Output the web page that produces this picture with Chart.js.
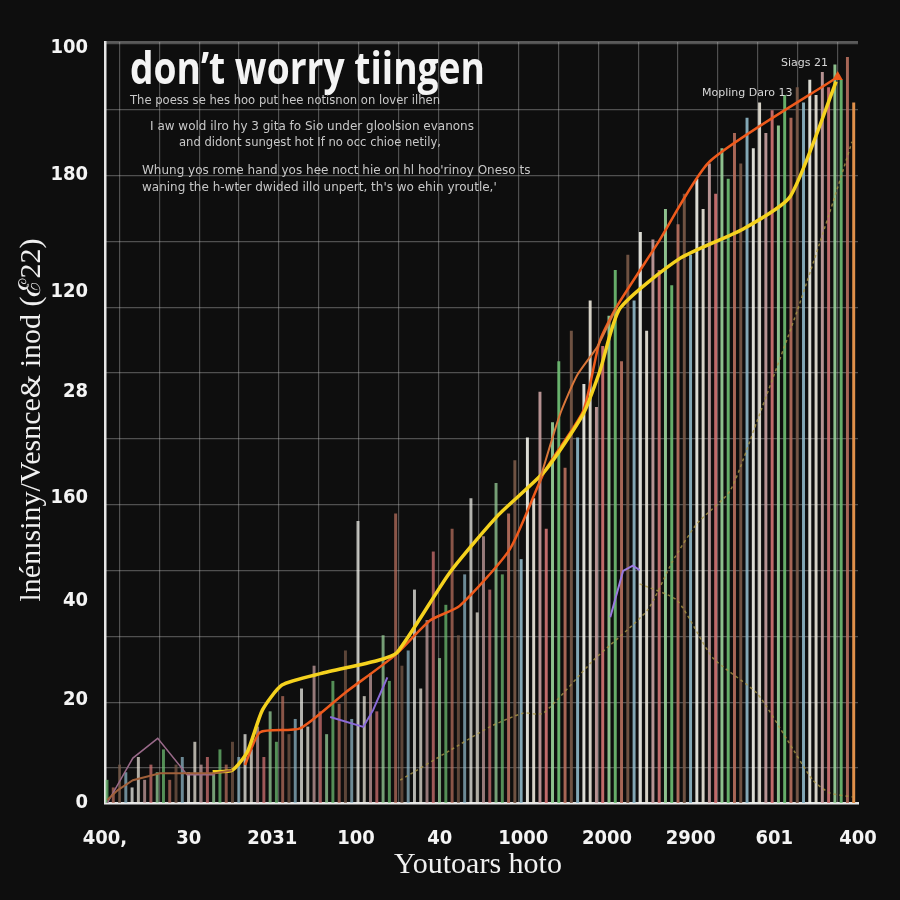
<!DOCTYPE html>
<html>
<head>
<meta charset="utf-8">
<script src="https://cdn.jsdelivr.net/npm/chart.js@4/dist/chart.umd.min.js"></script>
<style>
html,body{margin:0;padding:0;background:#0e0e0e;}
#wrap{width:900px;height:900px;}
</style>
</head>
<body>
<div id="wrap"><canvas id="chart" width="900" height="900"></canvas></div>
<script>
// tick labels (they are not in order, that's how it is drawn)
const xTickLabels = ["400,", "30", "2031", "100", "40", "1000", "2000", "2900", "601", "400"];
const yTickVals = [0, 13.5, 26.6, 40.1, 54.1, 67.2, 82.6, 99.3];
const yTickLabels = ["0", "20", "40", "160", "28", "120", "180", "100"];

// the thin bars, left to right
const barHeights = [
  3, 2, 5, 4, 2, 6, 3, 5, 4, 7, 3, 5, 6, 4, 8, 5, 6, 4, 7, 5, 8, 6, 9, 7,
  10, 6, 12, 8, 14, 9, 11, 15, 10, 18, 12, 9, 16, 13, 20, 11, 37, 14, 17, 12, 22, 16, 38, 18,
  20, 28, 15, 24, 33, 19, 26, 36, 22, 30, 40, 25, 35, 28, 42, 30,
  38, 45, 32, 48, 40, 54, 36, 50, 58, 44, 62, 48, 55, 66, 52, 60,
  64, 70, 58, 72, 66, 75, 62, 74, 70, 78, 68, 76, 80, 72, 82, 78,
  84, 80, 86, 82, 88, 84, 90, 86, 92, 88, 91, 89, 93, 90, 94, 92,
  95, 93, 96, 94, 97, 95, 98, 92
];

// lines, x in 0..100 along the axis
const yellowSeries = [
  { x: 14.3, y: 4.1 }, { x: 16.9, y: 4.3 }, { x: 18.9, y: 6.7 }, { x: 20.9, y: 12.2 },
  { x: 23.5, y: 15.5 }, { x: 28.6, y: 17.0 }, { x: 36.1, y: 18.7 }, { x: 38.8, y: 19.8 },
  { x: 45.8, y: 30.3 }, { x: 52.1, y: 37.7 }, { x: 58.4, y: 43.6 }, { x: 63.5, y: 51.1 },
  { x: 65.7, y: 56.7 }, { x: 68.4, y: 65.0 }, { x: 76.4, y: 71.6 }, { x: 84.7, y: 75.4 },
  { x: 91.0, y: 79.7 }, { x: 97.1, y: 94.8 }
];
const orangeSeries = [
  { x: 18.6, y: 5.0 }, { x: 20.6, y: 9.3 }, { x: 25.9, y: 9.8 }, { x: 31.9, y: 14.5 },
  { x: 38.5, y: 19.4 }, { x: 43.2, y: 24.0 }, { x: 47.1, y: 25.9 }, { x: 53.8, y: 33.4 },
  { x: 58.4, y: 43.6 }, { x: 63.5, y: 51.5 }, { x: 65.7, y: 60.7 }, { x: 68.0, y: 65.3 },
  { x: 73.3, y: 73.4 }, { x: 80.3, y: 84.3 }, { x: 97.3, y: 95.4 }
];
const rustSeries = [
  { x: 57.6, y: 42.0 }, { x: 60.4, y: 51.0 }, { x: 62.7, y: 56.2 }, { x: 65.4, y: 60.0 },
  { x: 68.0, y: 65.3 }
];
const brownSeries = [
  { x: 0.3, y: 0.4 }, { x: 1.7, y: 1.7 }, { x: 3.7, y: 3.0 }, { x: 7.3, y: 3.9 },
  { x: 14.6, y: 3.9 }, { x: 16.9, y: 4.3 }
];
const mauveSeries = [
  { x: 0.3, y: 0 }, { x: 3.7, y: 5.9 }, { x: 7.0, y: 8.5 }, { x: 10.9, y: 3.7 }, { x: 14.6, y: 3.7 }
];
const purpleSeries = [
  { x: 29.9, y: 11.3 }, { x: 34.3, y: 10.0 }, { x: 35.6, y: 12.2 }, { x: 37.5, y: 16.5 }
];
const purpleSeries2 = [
  { x: 67.1, y: 24.4 }, { x: 68.8, y: 30.5 }, { x: 70.1, y: 31.2 }, { x: 71.0, y: 30.6 }
];
const oliveRise = [
  { x: 39.2, y: 3.0 }, { x: 45.8, y: 6.9 }, { x: 51.1, y: 10.0 }, { x: 55.5, y: 11.8 },
  { x: 58.2, y: 11.8 }, { x: 64.8, y: 18.7 }, { x: 72.0, y: 25.3 }, { x: 75.4, y: 31.8 },
  { x: 78.6, y: 36.7 }, { x: 83.0, y: 41.0 }, { x: 86.6, y: 50.2 }, { x: 91.9, y: 64.6 },
  { x: 96.7, y: 79.0 }, { x: 99.2, y: 86.9 }
];
const oliveFall = [
  { x: 71.0, y: 28.8 }, { x: 76.0, y: 26.6 }, { x: 80.7, y: 19.1 }, { x: 86.6, y: 14.4 },
  { x: 90.6, y: 8.3 }, { x: 94.0, y: 3.0 }, { x: 96.3, y: 1.3 }, { x: 99.3, y: 0.8 }
];

const barPalette = ["#6fbf73", "#d47474", "#ece8dc", "#8fb8c8", "#b8705e", "#9bd49b", "#c9a1a1", "#f2f2ea", "#7a5a48"];
const barColors = barHeights.map((h, i) =>
  i === barHeights.length - 1 ? "#e0904a" : barPalette[(i * 4) % barPalette.length] + (i < 64 ? "bb" : "e6"));

function lineSet(data, color, width, extra = {}) {
  return Object.assign({
    type: "line",
    data,
    xAxisID: "x",
    yAxisID: "y",
    borderColor: color,
    borderWidth: width,
    pointRadius: 0,
    tension: 0.2,
    fill: false,
  }, extra);
}

const tickFont = { family: "'DejaVu Sans Condensed', 'DejaVu Sans'", size: 20, weight: "bold" };

const textPlugin = {
  id: "texts",
  afterDraw(chart) {
    const ctx = chart.ctx;
    const a = chart.chartArea;
    ctx.save();
    // frame top line
    ctx.strokeStyle = "rgba(200,200,200,0.55)";
    ctx.lineWidth = 1.5;
    ctx.beginPath();
    ctx.moveTo(a.left, a.top);
    ctx.lineTo(a.right, a.top);
    ctx.stroke();

    ctx.fillStyle = "#f4f4f4";
    ctx.textBaseline = "alphabetic";
    ctx.textAlign = "left";
    ctx.font = "bold 44px 'Open Sans'";
    ctx.fillText("don\u2019t worry tiingen", 130, 84, 355);

    ctx.fillStyle = "#c8c8c8";
    ctx.font = "12px 'DejaVu Sans'";
    ctx.fillText("The poess se hes hoo put hee notisnon on lover ilhen", 130, 104, 310);
    ctx.textAlign = "center";
    ctx.fillText("I aw wold ilro hy 3 gita fo Sio under gloolsion evanons", 312, 130, 345);
    ctx.fillText("and didont sungest hot If no occ chioe netily,", 310, 146, 262);
    ctx.textAlign = "left";
    ctx.fillText("Whung yos rome hand yos hee noct hie on hl hoo'rinoy Oneso ts", 142, 174, 410);
    ctx.fillText("waning the h-wter dwided illo unpert, th's wo ehin yroutle,'", 142, 191, 360);

    ctx.font = "11px 'DejaVu Sans'";
    ctx.fillStyle = "#d8d8d8";
    ctx.fillText("Siags 21", 781, 66, 50);
    ctx.fillText("Mopling Daro 13", 702, 96, 92);

    // axis titles
    ctx.fillStyle = "#f0f0f0";
    ctx.textAlign = "center";
    ctx.font = "30px 'Liberation Serif'";
    ctx.fillText("Youtoars hoto", 478, 873, 168);
    ctx.translate(40, 420);
    ctx.rotate(-Math.PI / 2);
    ctx.font = "30px 'Liberation Serif'";
    ctx.fillText("lnénısiny/Vesnce& inod (ℰ22)", 0, 0, 390);
    ctx.restore();
  },
};

new Chart(document.getElementById("chart"), {
  data: {
    datasets: [
      {
        type: "bar",
        data: barHeights,
        xAxisID: "xb",
        yAxisID: "y",
        backgroundColor: barColors,
        barThickness: 2.3,
        order: 10,
      },
      lineSet(oliveRise, "rgba(170,150,70,0.8)", 1.5, { borderDash: [3, 3] }),
      lineSet(oliveFall, "rgba(170,150,70,0.8)", 1.5, { borderDash: [3, 3] }),
      lineSet(brownSeries, "#a0603a", 2, { tension: 0 }),
      lineSet(mauveSeries, "#9a6a8a", 1.5, { tension: 0 }),
      lineSet(purpleSeries, "#8a6ad8", 2, { tension: 0 }),
      lineSet(purpleSeries2, "#9a7ae0", 2, { tension: 0 }),
      lineSet(rustSeries, "#d9763a", 2),
      lineSet(yellowSeries, "#f5d21e", 3.5),
      lineSet(orangeSeries, "#ee5a1c", 2.5, {
        pointStyle: "triangle",
        pointRadius: (c) => (c.dataIndex === orangeSeries.length - 1 ? 6 : 0),
        pointBackgroundColor: "#ee5a1c",
        pointBorderWidth: 0,
      }),
    ],
  },
  options: {
    responsive: false,
    animation: false,
    layout: { padding: { top: 42, right: 42, bottom: 0, left: 0 } },
    plugins: { legend: { display: false }, tooltip: { enabled: false } },
    scales: {
      x: {
        type: "linear",
        position: "bottom",
        min: 0,
        max: 100,
        afterBuildTicks: (s) => {
          const t = [];
          for (let v = 1.9; v < 100; v += 5.3) t.push({ value: v });
          s.ticks = t;
        },
        afterFit: (s) => { s.height = 0; },
        ticks: { display: false },
        border: { display: false },
        grid: { color: "rgba(190,190,190,0.38)", lineWidth: 1.2, drawTicks: false },
      },
      xl: {
        type: "category",
        position: "bottom",
        labels: xTickLabels,
        offset: false,
        afterFit: (s) => { s.height = 97; },
        grid: { display: false },
        border: { display: true, color: "#e6e6e6", width: 2.5 },
        ticks: {
          color: "#f4f4f4",
          padding: 16,
          autoSkip: false,
          maxRotation: 0,
          font: tickFont,
        },
      },
      xb: {
        type: "category",
        labels: barHeights.map((h, i) => String(i)),
        offset: true,
        display: false,
      },
      y: {
        position: "left",
        min: 0,
        max: 100,
        afterBuildTicks: (s) => { s.ticks = yTickVals.map((v) => ({ value: v })); },
        afterFit: (s) => { s.width = 105; },
        grid: { display: false },
        border: { display: true, color: "#e6e6e6", width: 2.5 },
        ticks: {
          color: "#f4f4f4",
          padding: 9,
          callback: (v, i) => yTickLabels[i],
          font: tickFont,
        },
      },
      yg: {
        position: "left",
        min: 0,
        max: 100,
        afterBuildTicks: (s) => {
          const t = [];
          for (let v = 4.6; v < 100; v += 8.65) t.push({ value: v });
          s.ticks = t;
        },
        afterFit: (s) => { s.width = 0; },
        ticks: { display: false },
        border: { display: false },
        grid: { color: "rgba(190,190,190,0.38)", lineWidth: 1.2, drawTicks: false },
      },
    },
  },
  plugins: [textPlugin],
});
</script>
</body>
</html>
